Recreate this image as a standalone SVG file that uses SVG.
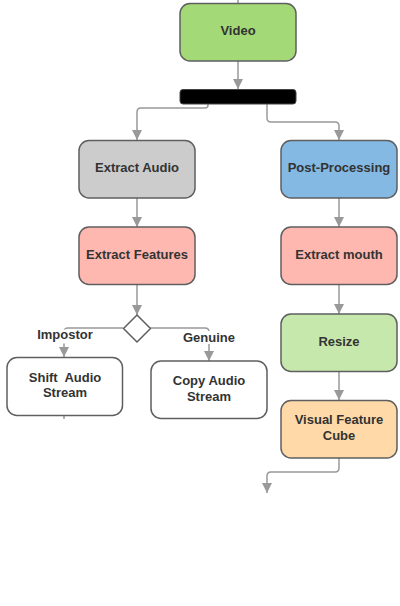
<svg xmlns="http://www.w3.org/2000/svg" width="400" height="606" viewBox="0 0 400 606">
<style>
.box{stroke:#5f5f5f;stroke-width:1.5}
.t{font-family:"Liberation Sans",Arial,sans-serif;font-size:13px;font-weight:bold;fill:#333333;text-anchor:middle}
.c{fill:none;stroke:#999999;stroke-width:1.5}
</style>
<defs>
<marker id="ah" markerUnits="userSpaceOnUse" markerWidth="10" markerHeight="11" refX="5" refY="10" orient="auto-start-reverse" viewBox="0 0 10 11">
<path d="M0 0 L10 0 L5 10 Z" fill="#999999" transform="rotate(0)"/>
</marker>
<marker id="a" markerUnits="userSpaceOnUse" markerWidth="10" markerHeight="11" refX="10" refY="5" orient="auto" viewBox="0 0 10 10">
<path d="M0 0 L10 5 L0 10 Z" fill="#999999"/>
</marker>
</defs>
<g id="connectors">
<path class="c" d="M238 0 V3"/>
<path class="c" d="M238 61 V89" marker-end="url(#a)"/>
<path class="c" d="M208 104 V105 Q208 108 205 108 H141 Q137 108 137 112 V140" marker-end="url(#a)"/>
<path class="c" d="M267 104 V118 Q267 122 271 122 H335 Q339 122 339 126 V140" marker-end="url(#a)"/>
<path class="c" d="M137 198 V227" marker-end="url(#a)"/>
<path class="c" d="M339 198 V227" marker-end="url(#a)"/>
<path class="c" d="M137 285 V315" marker-end="url(#a)"/>
<path class="c" d="M339 285 V314" marker-end="url(#a)"/>
<path class="c" d="M339 372 V400" marker-end="url(#a)"/>
<path class="c" d="M123 328 H68 Q64 328 64 332 V357" marker-end="url(#a)"/>
<path class="c" d="M150 328 H205 Q209 328 209 332 V361" marker-end="url(#a)"/>
<path class="c" d="M339 458 V468 Q339 472 335 472 H271 Q267 472 267 476 V493" marker-end="url(#a)"/>
<path class="c" d="M64 416 V419"/>
</g>
<g id="label-impostor">
<rect x="35" y="329.5" width="60" height="14" fill="#ffffff"/>
<text class="t" x="65" y="339">Impostor</text>
</g>
<g id="label-genuine">
<rect x="181" y="331" width="56" height="13" fill="#ffffff"/>
<text class="t" x="209" y="342">Genuine</text>
</g>
<g id="video">
<rect class="box" x="180" y="3.5" width="116" height="57.5" rx="10" fill="#a3d977"/>
<text class="t" x="238" y="35">Video</text>
</g>
<g id="fork">
<rect x="180" y="89.5" width="116" height="14.5" rx="3" fill="#000000" stroke="#444444" stroke-width="1"/>
</g>
<g id="extract-audio">
<rect class="box" x="79" y="140.5" width="116" height="57.5" rx="10" fill="#cccccc"/>
<text class="t" x="137" y="172">Extract Audio</text>
</g>
<g id="post-processing">
<rect class="box" x="281" y="140.5" width="116" height="57.5" rx="10" fill="#83b9e3"/>
<text class="t" x="339" y="172">Post-Processing</text>
</g>
<g id="extract-features">
<rect class="box" x="79" y="227" width="116" height="57.5" rx="10" fill="#ffb8b0"/>
<text class="t" x="137" y="259">Extract Features</text>
</g>
<g id="extract-mouth">
<rect class="box" x="281" y="227" width="116" height="57.5" rx="10" fill="#ffb8b0"/>
<text class="t" x="339" y="259">Extract mouth</text>
</g>
<g id="decision">
<path d="M137 315 L150.5 328.5 L137 342 L123.5 328.5 Z" fill="#ffffff" stroke="#5f5f5f" stroke-width="1.5" stroke-linejoin="round"/>
</g>
<g id="shift-audio">
<rect class="box" x="7" y="357.5" width="115.5" height="58" rx="10" fill="#ffffff"/>
<text class="t" x="65" y="381.5" xml:space="preserve">Shift  Audio</text>
<text class="t" x="65" y="396.5">Stream</text>
</g>
<g id="copy-audio">
<rect class="box" x="151" y="361" width="116" height="57.5" rx="10" fill="#ffffff"/>
<text class="t" x="209" y="385">Copy Audio</text>
<text class="t" x="209" y="401">Stream</text>
</g>
<g id="resize">
<rect class="box" x="281" y="314" width="116" height="57.5" rx="10" fill="#c7e8ac"/>
<text class="t" x="339" y="346">Resize</text>
</g>
<g id="visual-feature-cube">
<rect class="box" x="281" y="400.5" width="116" height="57.5" rx="10" fill="#ffdaa8"/>
<text class="t" x="339" y="424">Visual Feature</text>
<text class="t" x="339" y="440">Cube</text>
</g>
</svg>
